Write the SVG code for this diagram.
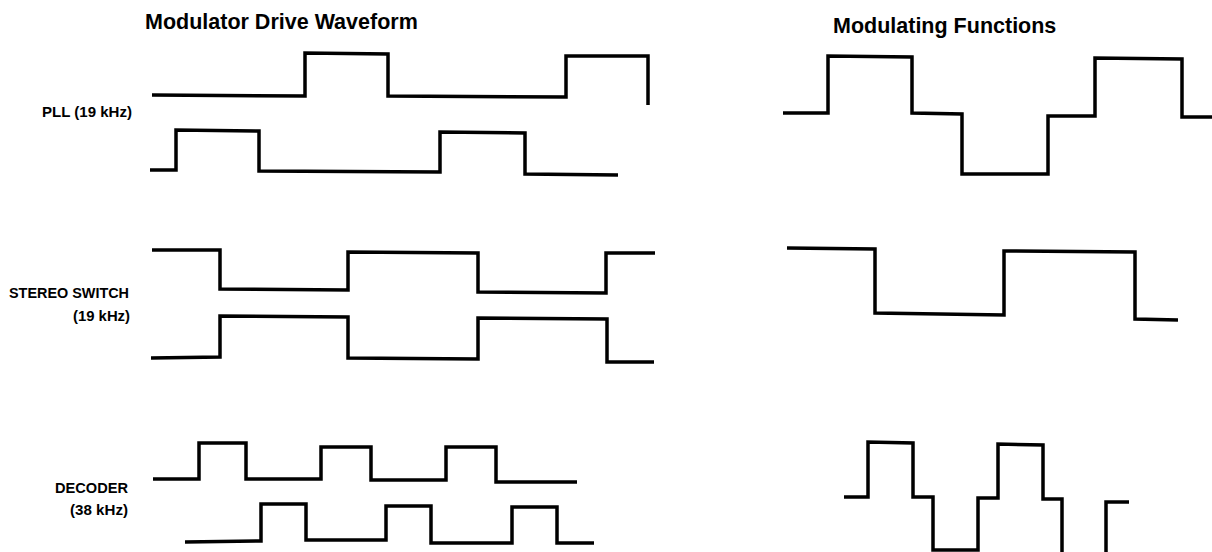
<svg xmlns="http://www.w3.org/2000/svg" width="1212" height="552" viewBox="0 0 1212 552">
  <style>
    .wave { fill: none; stroke: #000; stroke-width: 3.5; stroke-linejoin: miter; stroke-linecap: butt; }
    .title { font-family: "Liberation Sans", Arial, sans-serif; font-weight: bold; font-size: 21.5px; fill: #000; }
    .lbl { font-family: "Liberation Sans", Arial, sans-serif; font-weight: bold; font-size: 14px; fill: #000; }
  </style>
  <rect x="0" y="0" width="1212" height="552" fill="#fff"/>

  <g id="titles">
    <text class="title" x="145" y="29">Modulator Drive Waveform</text>
    <text class="title" x="833" y="33">Modulating Functions</text>
  </g>

  <g id="labels">
    <text class="lbl" x="42" y="117" textLength="90" lengthAdjust="spacingAndGlyphs">PLL (19 kHz)</text>
    <text class="lbl" x="9" y="298" textLength="120" lengthAdjust="spacingAndGlyphs">STEREO SWITCH</text>
    <text class="lbl" x="73" y="321" textLength="57" lengthAdjust="spacingAndGlyphs">(19 kHz)</text>
    <text class="lbl" x="55" y="493" textLength="73" lengthAdjust="spacingAndGlyphs">DECODER</text>
    <text class="lbl" x="70" y="515" textLength="58" lengthAdjust="spacingAndGlyphs">(38 kHz)</text>
  </g>

  <g id="pll">
    <polyline id="pll-drive-a" class="wave" points="152,95 305,96 305,53 388,54 388,96 566,97 566,56 648,56 648,105"/>
    <polyline id="pll-drive-b" class="wave" points="150,170 176,170 176,130 259,131 259,171 440,172 440,132 525,133 525,174 618,175"/>
    <polyline id="pll-mod" class="wave" points="783,113 828,113 828,56 912,57 912,113 962,114 962,174 1048,174 1048,116 1095,116 1095,58 1182,59 1182,117 1212,117"/>
  </g>

  <g id="stereo">
    <polyline id="stereo-drive-a" class="wave" points="152,250 220,250 220,289 348,290 348,252 478,253 478,292 606,293 606,253 655,253"/>
    <polyline id="stereo-drive-b" class="wave" points="151,358 220,357 220,316 348,317 348,358 478,359 478,318 607,319 607,362 654,362"/>
    <polyline id="stereo-mod" class="wave" points="787,248 875,249 875,313 1004,315 1004,251 1135,252 1135,319 1178,320"/>
  </g>

  <g id="decoder">
    <polyline id="decoder-drive-a" class="wave" points="153,479 199,479 199,443 246,443 246,479 321,479 321,447 371,447 371,480 446,480 446,447 496,447 496,482 577,482"/>
    <polyline id="decoder-drive-b" class="wave" points="185,542 261,541 261,504 306,504 306,540 386,540 386,506 431,506 431,543 512,543 512,507 557,507 557,543 594,543"/>
    <polyline id="decoder-mod" class="wave" points="844,497 868,497 868,442 913,443 913,497 933,497 933,550 978,550 978,498 998,498 998,444 1043,445 1043,499 1062,499 1062,553"/>
    <polyline id="decoder-mod-tail" class="wave" points="1106,553 1106,502 1129,502"/>
  </g>
</svg>
